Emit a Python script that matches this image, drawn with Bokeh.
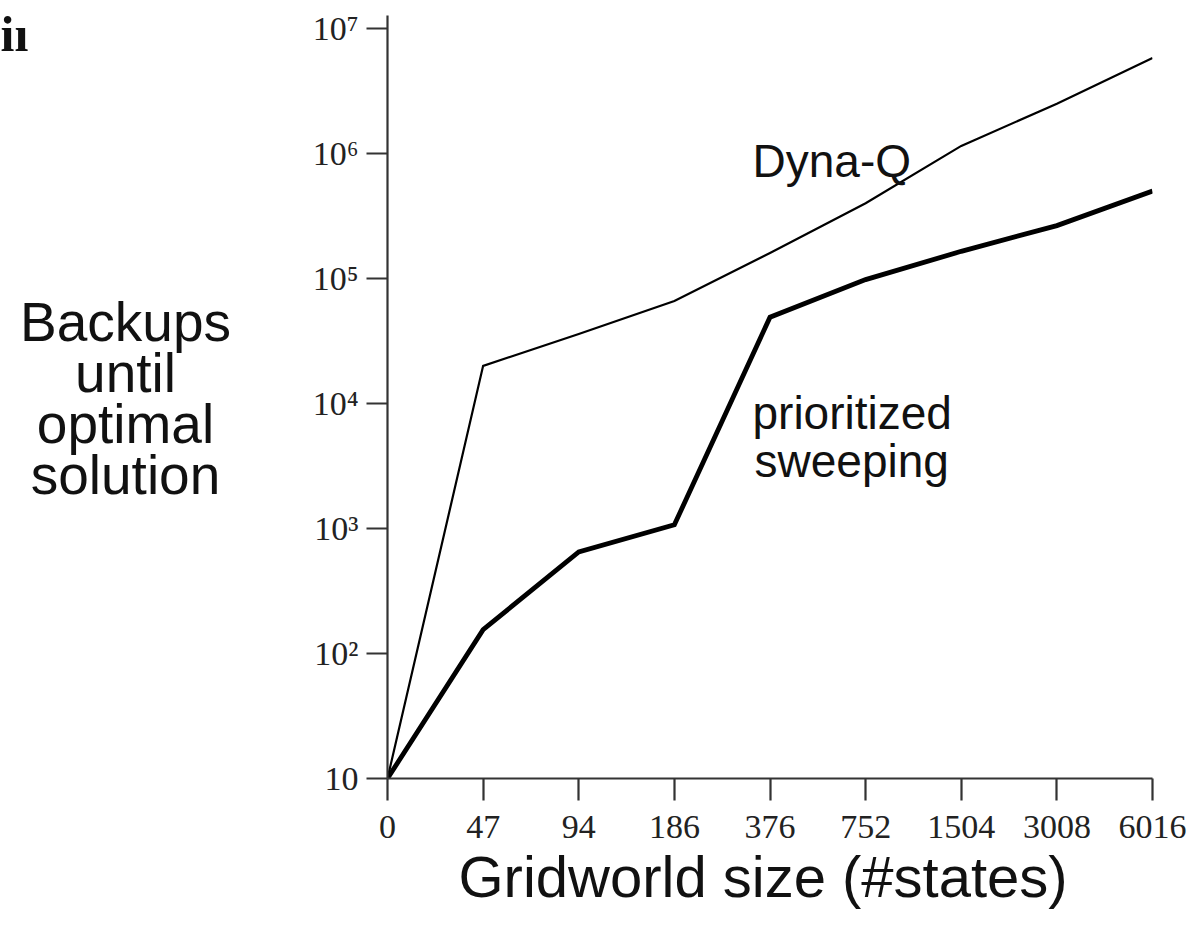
from bokeh.plotting import figure
from bokeh.models import Range1d, FixedTicker, Label, Title
from bokeh.layouts import row
from bokeh.embed import file_html
from bokeh.resources import INLINE

# ---- data ----
size_labels = ["0", "47", "94", "186", "376", "752", "1504", "3008", "6016"]
x_idx = list(range(len(size_labels)))
dyna_q = [10, 2.0e4, 3.6e4, 6.6e4, 1.6e5, 4.0e5, 1.15e6, 2.5e6, 5.8e6]
prioritized = [10, 155, 650, 1070, 4.9e4, 9.8e4, 1.65e5, 2.65e5, 5.0e5]
y_ticks = [10, 1e2, 1e3, 1e4, 1e5, 1e6, 1e7]
y_tick_labels = ["10", "10\u00b2", "10\u00b3", "10\u2074", "10\u2075", "10\u2076", "10\u2077"]
y_title_lines = ["Backups", "until", "optimal", "solution"]
x_title = "Gridworld size (#states)"

AX = "#333333"
SANS = "Liberation Sans"
SERIF = "Liberation Serif"
H = 920
LW = 260          # width of the left text panel
TOTAL_W = 1190
FL, FR, FT, FB = 387, 1152, 15, 778   # frame edges on the page

# ---------------- left panel (y title) ----------------
left = figure(width=LW, height=H, x_range=Range1d(0, LW), y_range=Range1d(FB, FT),
              x_axis_location=None, y_axis_location=None,
              output_backend="svg", toolbar_location=None,
              min_border_left=0, min_border_right=0,
              min_border_top=FT, min_border_bottom=H - FB)
left.outline_line_color = None
left.grid.visible = False

SHIFT = -19
for txt, base in zip(y_title_lines, [340, 391, 442, 493]):
    left.add_layout(Label(x=125, y=base + SHIFT, text=txt, text_align="center",
                          text_baseline="alphabetic", text_font=SANS,
                          text_font_size="55px", text_color="#111111"))
left.add_layout(Label(x=0, y=52 + SHIFT, text="i\u0131", text_align="left",
                      text_baseline="alphabetic", text_font=SERIF,
                      text_font_size="50px", text_font_style="bold",
                      text_color="#111111"))

# ---------------- main chart ----------------
p = figure(width=TOTAL_W - LW, height=H,
           x_range=Range1d(0, 8), y_range=Range1d(10, 10 ** 7.104),
           y_axis_type="log", output_backend="svg", toolbar_location=None,
           min_border_left=FL - LW, min_border_right=TOTAL_W - FR,
           min_border_top=FT, min_border_bottom=H - FB)
p.outline_line_color = None
p.grid.visible = False

p.line(x_idx, dyna_q, line_color="black", line_width=2.2, line_join="miter")
p.line(x_idx, prioritized, line_color="black", line_width=4.8, line_join="miter")

xa = p.xaxis[0]
xa.ticker = FixedTicker(ticks=x_idx)
xa.major_label_overrides = {i: s for i, s in zip(x_idx, size_labels)}
xa.minor_tick_line_color = None
xa.major_tick_in = 0
xa.major_tick_out = 22
xa.axis_line_color = AX
xa.axis_line_width = 2.2
xa.major_tick_line_color = AX
xa.major_tick_line_width = 2.2
xa.major_label_text_font = SERIF
xa.major_label_text_font_size = "34px"
xa.major_label_text_color = "#222222"
xa.major_label_standoff = 15

ya = p.yaxis[0]
ya.ticker = FixedTicker(ticks=y_ticks)
ya.major_label_overrides = {t: s for t, s in zip(y_ticks, y_tick_labels)}
ya.minor_tick_line_color = None
ya.major_tick_in = 0
ya.major_tick_out = 21
ya.axis_line_color = AX
ya.axis_line_width = 2.2
ya.major_tick_line_color = AX
ya.major_tick_line_width = 2.2
ya.major_label_text_font = SERIF
ya.major_label_text_font_size = "34px"
ya.major_label_text_color = "#222222"
ya.major_label_standoff = 8

p.add_layout(Title(text=x_title, align="left", offset=458 - FL,
                   text_font=SANS, text_font_size="58px",
                   text_font_style="normal", text_color="#111111",
                   standoff=3), "below")

PX_X = (FR - FL) / 8
PX_DEC = (FB - FT) / 6.104


def dx(sx):
    return (sx - FL) / PX_X


def dy(sy):
    return 10 ** (1 + (FB - sy) / PX_DEC)


def lab(text, sx, sy, size):
    p.add_layout(Label(x=dx(sx), y=dy(sy), text=text, text_align="left",
                       text_baseline="alphabetic", text_font=SANS,
                       text_font_size=size, text_color="#111111"))


lab("Dyna-Q", 752, 160, "46px")
lab("prioritized", 752, 412, "46px")
lab("sweeping", 754, 460, "46px")

layout = row(left, p, spacing=0)
open("out.html", "w").write(file_html(layout, INLINE))
